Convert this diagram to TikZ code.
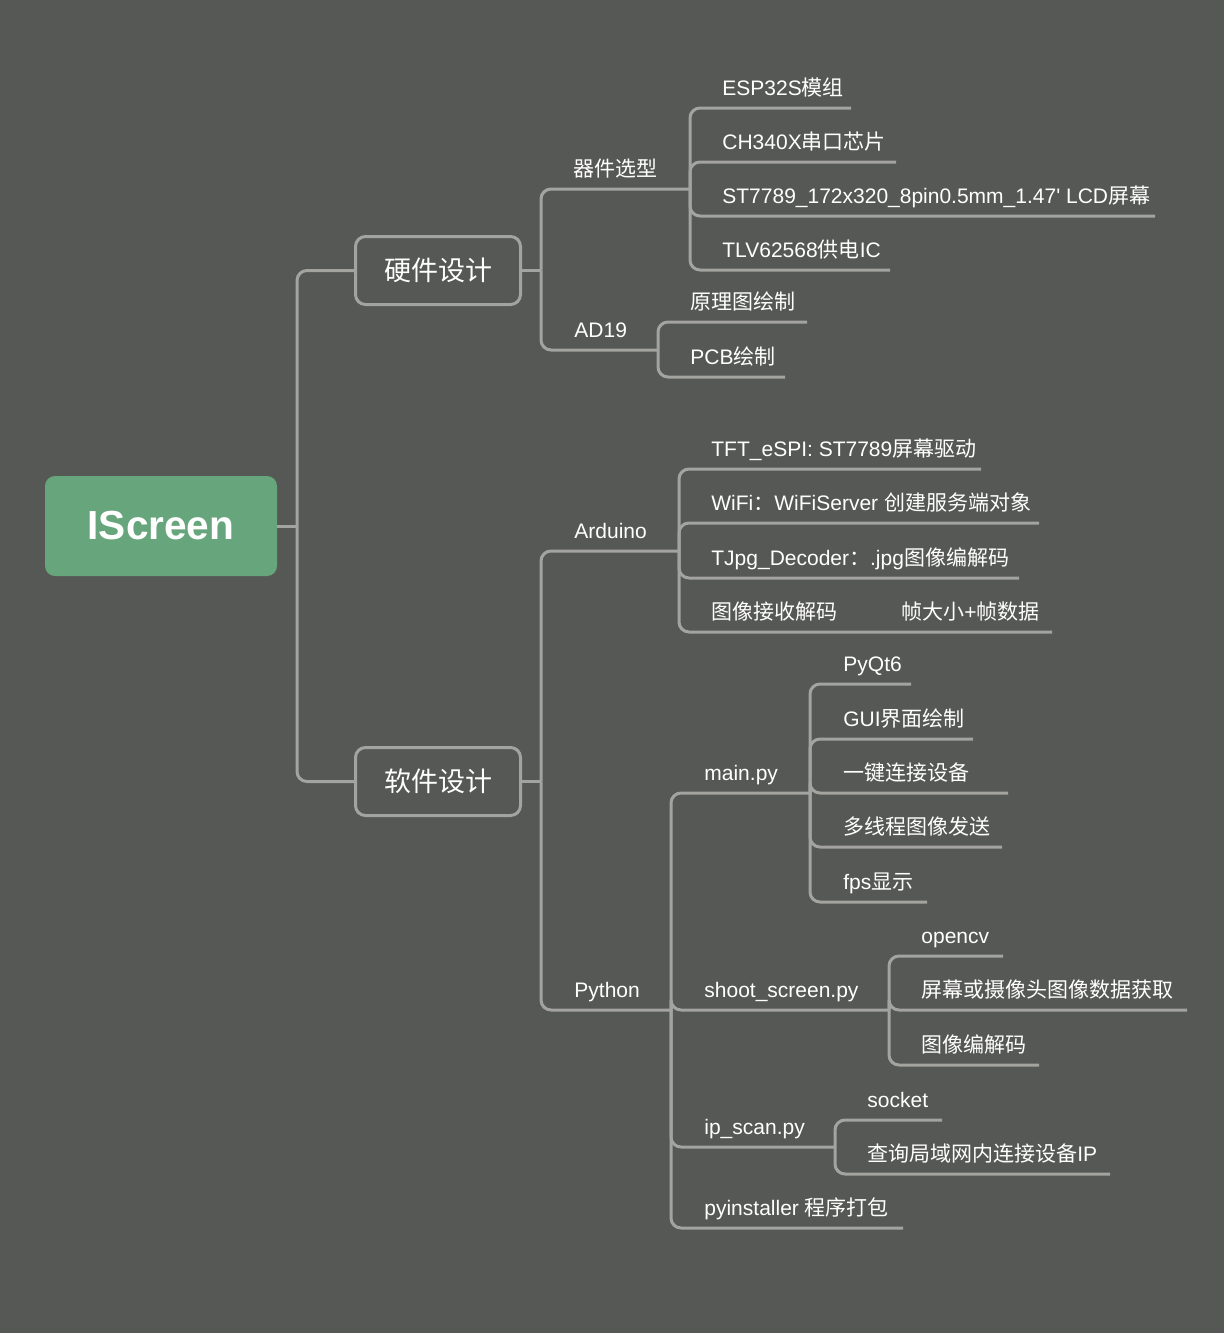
\documentclass[tikz,border=0pt]{standalone}
\usepackage{fontspec}
\setmainfont{Liberation Sans}
\newfontfamily\cjk{Noto Sans CJK SC}
\newcommand\zh[1]{{\cjk #1}}
\definecolor{bgc}{HTML}{565855}
\definecolor{greenc}{HTML}{67A67C}
\definecolor{linec}{HTML}{A3A4A0}
\tikzset{
  conn/.style={draw=linec, line width=1.5pt, rounded corners=5pt},
  plainconn/.style={draw=linec, line width=1.5pt},
  lbl/.style={anchor=base west, inner sep=0pt, text=white, font=\fontsize{10.5}{12}\selectfont},
  topbox/.style={draw=linec, line width=1.5pt, rounded corners=5pt, minimum width=82.5pt, minimum height=34pt, inner sep=0pt, text=white, font=\fontsize{13.5}{15}\selectfont\cjk},
  rootbox/.style={fill=greenc, rounded corners=5pt, minimum width=116pt, minimum height=50pt, inner sep=0pt, text=white, font=\fontsize{20.3}{24}\selectfont\bfseries}
}
\newcommand\mmleaf[6]{%
  \coordinate (#1e) at (#5,#4);
  \node[lbl] (#1) at (#3,#4-13) {#6};
  \draw[conn] (#2) |- (#1e);
}
\begin{document}
\begin{tikzpicture}[x=0.5pt,y=-0.5pt]
\fill[bgc] (0,0) rectangle (1224,1333);
\useasboundingbox (0,0) rectangle (1224,1333);

\node[rootbox] (root) at (161,526) {IScreen};
\node[topbox] (hw) at (438,270.5) {硬件设计};
\node[topbox] (sw) at (438,781.5) {软件设计};

\coordinate (c0) at (297,526);
\draw[plainconn] (root.east) -- (c0);
\draw[conn] (c0) |- (hw.west);
\draw[conn] (c0) |- (sw.west);

% hardware
\coordinate (hwj) at (541,270.5);
\draw[plainconn] (hw.east) -- (hwj);
\mmleaf{qj}{hwj}{573}{189}{690}{\zh{器件选型}}
\mmleaf{ad}{hwj}{574}{350}{658}{AD19}

\mmleaf{esp}{qje}{722}{108}{851}{ESP32S\zh{模组}}
\mmleaf{ch}{qje}{722}{162}{896}{CH340X\zh{串口芯片}}
\mmleaf{st}{qje}{722}{216}{1155}{ST7789\_172x320\_8pin0.5mm\_1.47\textquotesingle{} LCD\zh{屏幕}}
\mmleaf{tlv}{qje}{722}{270}{890}{TLV62568\zh{供电}IC}

\mmleaf{yl}{ade}{690}{322}{807}{\zh{原理图绘制}}
\mmleaf{pcb}{ade}{690}{377}{785}{PCB\zh{绘制}}

% software
\coordinate (swj) at (541,781.5);
\draw[plainconn] (sw.east) -- (swj);
\mmleaf{ard}{swj}{574}{551}{679}{Arduino}
\mmleaf{py}{swj}{574}{1010}{671}{Python}

\mmleaf{tft}{arde}{711}{469}{981}{TFT\_eSPI: ST7789\zh{屏幕驱动}}
\mmleaf{wifi}{arde}{711}{523}{1039}{WiFi\zh{：}WiFiServer \zh{创建服务端对象}}
\mmleaf{tjpg}{arde}{711}{578}{1019}{TJpg\_Decoder\zh{：}.jpg\zh{图像编解码}}
\mmleaf{recv}{arde}{711}{632}{1052}{\zh{图像接收解码}\hspace{32pt}\zh{帧大小}+\zh{帧数据}}

\mmleaf{mainpy}{pye}{704}{793}{810}{main.py}
\mmleaf{ss}{pye}{704}{1010}{889}{shoot\_screen.py}
\mmleaf{ip}{pye}{704}{1147}{835}{ip\_scan.py}
\mmleaf{pyi}{pye}{704}{1228}{903}{pyinstaller \zh{程序打包}}

\mmleaf{pyqt}{mainpye}{843}{684}{911}{PyQt6}
\mmleaf{gui}{mainpye}{843}{739}{973}{GUI\zh{界面绘制}}
\mmleaf{yj}{mainpye}{843}{793}{1008}{\zh{一键连接设备}}
\mmleaf{dx}{mainpye}{843}{847}{1002}{\zh{多线程图像发送}}
\mmleaf{fps}{mainpye}{843}{902}{927}{fps\zh{显示}}

\mmleaf{cv}{sse}{921}{956}{1003}{opencv}
\mmleaf{pm}{sse}{921}{1010}{1187}{\zh{屏幕或摄像头图像数据获取}}
\mmleaf{bj}{sse}{921}{1065}{1039}{\zh{图像编解码}}

\mmleaf{sock}{ipe}{867}{1120}{942}{socket}
\mmleaf{cx}{ipe}{867}{1174}{1110}{\zh{查询局域网内连接设备}IP}
\end{tikzpicture}
\end{document}
